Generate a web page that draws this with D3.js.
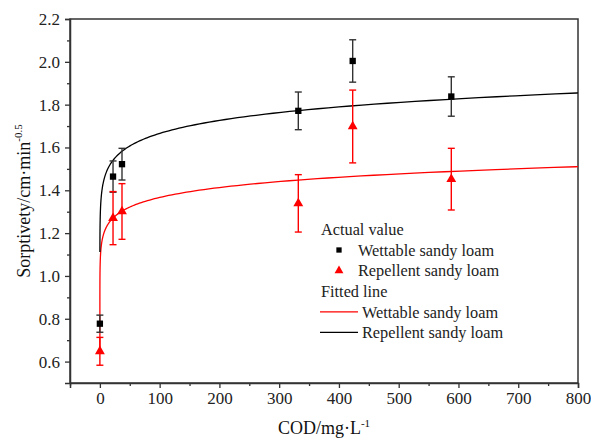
<!DOCTYPE html>
<html>
<head>
<meta charset="utf-8">
<script src="https://cdn.jsdelivr.net/npm/d3@7"></script>
<style>
  body { margin: 0; background: #fff; }
  svg { display: block; }
  svg text { font-family: "Liberation Serif", "Times New Roman", serif; }
</style>
</head>
<body>
<div id="chart"></div>
<script>
// ---- data ----
const codX = [0, 22, 37, 332, 423, 588];
const wettableY = [0.777, 1.464, 1.522, 1.771, 2.004, 1.838];
const wettableErr = [0.04, 0.073, 0.074, 0.088, 0.099, 0.092];
const repellentY = [0.648, 1.27, 1.301, 1.339, 1.698, 1.452];
const repellentErr = [0.065, 0.124, 0.13, 0.134, 0.17, 0.144];

// fitted curves  y = a * x^b
const fitBlack = { a: 1.3127, b: 0.0517, x0: 0.04 };
const fitRed = { a: 1.095, b: 0.0481, x0: 0.00002 };

const xTicks = [0, 100, 200, 300, 400, 500, 600, 700, 800];
const yTicks = [0.6, 0.8, 1.0, 1.2, 1.4, 1.6, 1.8, 2.0, 2.2];

const W = 591, H = 439;
const m = { left: 70, right: 13, top: 19, bottom: 56 };
const serif = "Liberation Serif, Times New Roman, serif";

const svg = d3.select("#chart").append("svg")
    .attr("width", W)
    .attr("height", H);

const x = d3.scaleLinear().domain([-50, 800]).range([m.left, W - m.right]);
const y = d3.scaleLinear().domain([0.5, 2.2]).range([H - m.bottom, m.top]);

const axisColor = "#333";

// frame
svg.append("rect")
    .attr("x", x(-50)).attr("y", y(2.2))
    .attr("width", x(800) - x(-50))
    .attr("height", y(0.5) - y(2.2))
    .attr("fill", "none")
    .attr("stroke", axisColor)
    .attr("stroke-width", 1.5);

// axes
svg.append("g")
    .attr("transform", `translate(0,${y(0.5)})`)
    .call(d3.axisBottom(x).tickValues(xTicks).tickSize(5).tickPadding(4).tickFormat(d3.format("d")));
svg.append("g")
    .attr("transform", `translate(0,${y(0.5)})`)
    .call(d3.axisBottom(x).tickValues(d3.range(-50, 800, 100)).tickSize(3).tickFormat(""))
    .call(g => g.select(".domain").remove());

svg.append("g")
    .attr("transform", `translate(${x(-50)},0)`)
    .call(d3.axisLeft(y).tickValues(yTicks).tickSize(5).tickPadding(5).tickFormat(d3.format(".1f")));
svg.append("g")
    .attr("transform", `translate(${x(-50)},0)`)
    .call(d3.axisLeft(y).tickValues(d3.range(0.7, 2.2, 0.2)).tickSize(3).tickFormat(""))
    .call(g => g.select(".domain").remove());

svg.selectAll(".tick line").attr("stroke", axisColor).attr("stroke-width", 1.3);
svg.selectAll(".domain").attr("stroke", axisColor).attr("stroke-width", 1.5);
svg.selectAll(".tick").select("text")
    .attr("fill", "#222")
    .attr("font-family", serif)
    .attr("font-size", 17);
svg.selectAll("g").filter(function () { return this.hasAttribute("font-family"); })
    .attr("font-family", serif)
    .attr("font-size", 17);

// axis titles
const xTitle = svg.append("text")
    .attr("x", x(375))
    .attr("y", 434)
    .attr("text-anchor", "middle")
    .attr("fill", "#111")
    .attr("font-family", serif)
    .attr("font-size", 18);
xTitle.append("tspan").text("COD/mg·L");
xTitle.append("tspan").attr("dy", -7).attr("font-size", 11).text("-1");

const yTitle = svg.append("text")
    .attr("transform", `translate(30,${(y(0.5) + y(2.2)) / 2}) rotate(-90)`)
    .attr("text-anchor", "middle")
    .attr("fill", "#111")
    .attr("font-family", serif)
    .attr("font-size", 18);
yTitle.append("tspan").text("Sorptivety/cm·min");
yTitle.append("tspan").attr("dy", -8).attr("font-size", 11).text("-0.5");

// fitted curves
function curvePoints(f) {
    const xs = [];
    for (let e = Math.log10(f.x0); e <= Math.log10(800); e += 0.02) xs.push(Math.pow(10, e));
    xs.push(800);
    return xs.map(v => [v, f.a * Math.pow(v, f.b)]);
}
const line = d3.line().x(d => x(d[0])).y(d => y(d[1]));

svg.append("path")
    .datum(curvePoints(fitRed))
    .attr("d", line)
    .attr("fill", "none")
    .attr("stroke", "#ff0000")
    .attr("stroke-width", 1.3);

svg.append("path")
    .datum(curvePoints(fitBlack))
    .attr("d", line)
    .attr("fill", "none")
    .attr("stroke", "#000")
    .attr("stroke-width", 1.3);

// error bars + markers
function drawSeries(vals, errs, color, fill, symbol, size) {
    const g = svg.append("g");
    const data = codX.map((c, i) => ({ c, v: vals[i], e: errs[i] }));
    const eb = g.selectAll(".eb").data(data).enter().append("g")
        .attr("stroke", color).attr("stroke-width", 1.4);
    eb.append("line")
        .attr("x1", d => x(d.c)).attr("x2", d => x(d.c))
        .attr("y1", d => y(d.v - d.e)).attr("y2", d => y(d.v + d.e));
    eb.append("line")
        .attr("x1", d => x(d.c) - 3.5).attr("x2", d => x(d.c) + 3.5)
        .attr("y1", d => y(d.v + d.e)).attr("y2", d => y(d.v + d.e));
    eb.append("line")
        .attr("x1", d => x(d.c) - 3.5).attr("x2", d => x(d.c) + 3.5)
        .attr("y1", d => y(d.v - d.e)).attr("y2", d => y(d.v - d.e));
    g.selectAll(".mk").data(data).enter().append("path")
        .attr("transform", d => `translate(${x(d.c)},${y(d.v)})`)
        .attr("d", d3.symbol().type(symbol).size(size))
        .attr("fill", fill);
}
drawSeries(wettableY, wettableErr, "#333", "#000", d3.symbolSquare, 40);
drawSeries(repellentY, repellentErr, "#ff0000", "#ff0000", d3.symbolTriangle, 42);

// legend
const lg = svg.append("g")
    .attr("font-family", serif)
    .attr("font-size", 16.3)
    .attr("fill", "#222");
const rowY = [229, 250, 270.6, 291.2, 311.8, 332.4];
lg.append("text").attr("x", 321).attr("y", rowY[0]).attr("dy", "0.35em").text("Actual value");
lg.append("path").attr("transform", `translate(339,${rowY[1]})`)
    .attr("d", d3.symbol().type(d3.symbolSquare).size(28)).attr("fill", "#000");
lg.append("text").attr("x", 358).attr("y", rowY[1]).attr("dy", "0.35em").text("Wettable sandy loam");
lg.append("path").attr("transform", `translate(339,${rowY[2]})`)
    .attr("d", d3.symbol().type(d3.symbolTriangle).size(34)).attr("fill", "#ff0000");
lg.append("text").attr("x", 358).attr("y", rowY[2]).attr("dy", "0.35em").text("Repellent sandy loam");
lg.append("text").attr("x", 321).attr("y", rowY[3]).attr("dy", "0.35em").text("Fitted line");
lg.append("line").attr("x1", 320).attr("x2", 358).attr("y1", rowY[4]).attr("y2", rowY[4])
    .attr("stroke", "#ff0000").attr("stroke-width", 1.3);
lg.append("text").attr("x", 362).attr("y", rowY[4]).attr("dy", "0.35em").text("Wettable sandy loam");
lg.append("line").attr("x1", 320).attr("x2", 358).attr("y1", rowY[5]).attr("y2", rowY[5])
    .attr("stroke", "#000").attr("stroke-width", 1.3);
lg.append("text").attr("x", 362).attr("y", rowY[5]).attr("dy", "0.35em").text("Repellent sandy loam");
</script>
</body>
</html>
